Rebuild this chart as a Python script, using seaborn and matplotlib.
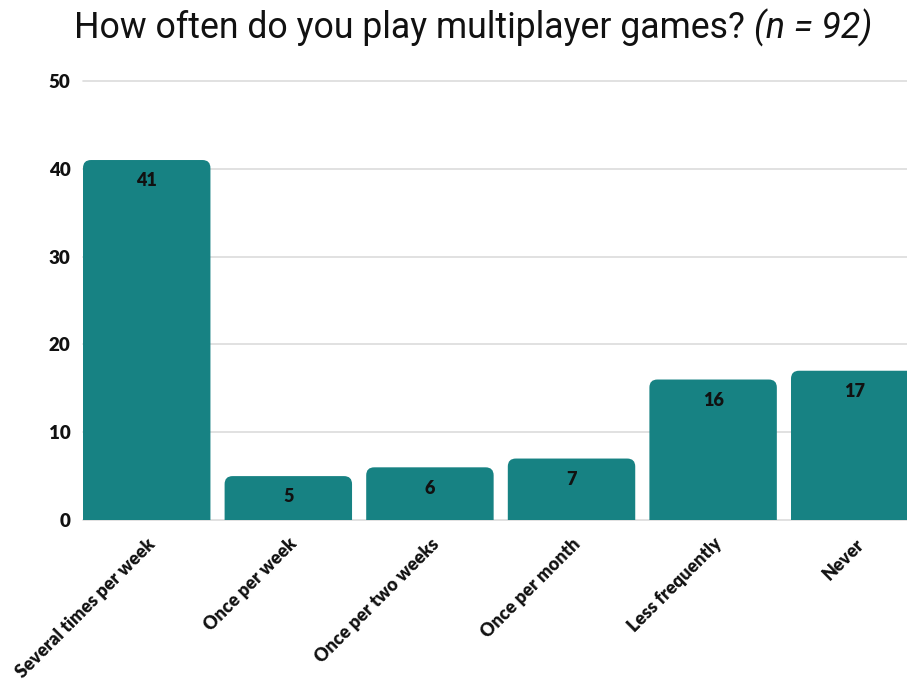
import matplotlib
matplotlib.use("Agg")
import matplotlib.pyplot as plt
from matplotlib.patches import FancyBboxPatch
import seaborn as sns
import pandas as pd

categories = ["Several times per week", "Once per week", "Once per two weeks",
              "Once per month", "Less frequently", "Never"]
counts = [41, 5, 6, 7, 16, 17]
y_ticks = [0, 10, 20, 30, 40, 50]

bar_color = "#178283"
text_color = "#111111"

sns.set_theme(style="white")
plt.rcParams["font.family"] = ["Lato", "DejaVu Sans"]

df = pd.DataFrame({"category": categories, "count": counts})

fig = plt.figure(figsize=(9.07, 6.82), dpi=100)
W, H = 907, 682
ax_left, ax_bottom = 83, 682 - 520
ax_w = 5.9 * 141.6
ax_h = 439 * 50.5 / 50
ax = fig.add_axes([ax_left / W, ax_bottom / H, ax_w / W, ax_h / H])

sns.barplot(data=df, x="category", y="count", color=bar_color, width=0.9,
            saturation=1, ax=ax, zorder=3)

ax.set_xlim(-0.45, 5.45)
ax.set_ylim(0, 50.5)

# swap each bar for a version with rounded top corners
px_per_x = ax_w / 5.9
px_per_y = ax_h / 50.5
radius_px = 8
for patch in list(ax.patches):
    x0, y0 = patch.get_x(), patch.get_y()
    w, h = patch.get_width(), patch.get_height()
    r = radius_px / px_per_x
    aspect = px_per_x / px_per_y
    ext = radius_px / px_per_y * 1.5
    fb = FancyBboxPatch((x0, y0 - ext), w, h + ext,
                        boxstyle=f"round,pad=0,rounding_size={r}",
                        mutation_aspect=aspect,
                        facecolor=bar_color, edgecolor="none", zorder=3)
    patch.remove()
    ax.add_patch(fb)

for i, v in enumerate(counts):
    ax.annotate(str(v), xy=(i, v), xytext=(0, -15), textcoords="offset points",
                ha="center", va="center", fontsize=13, fontweight="heavy",
                color=text_color, zorder=5)

ax.set_yticks(y_ticks)
ax.set_yticklabels([str(t) for t in y_ticks], fontsize=13.5, fontweight="heavy",
                   color=text_color)
for t in y_ticks:
    ax.axhline(t, color="#dcdcdc", lw=1.2, zorder=1, clip_on=False)

ax.set_xticks(range(len(categories)))
ax.set_xticklabels(categories, rotation=45, ha="right", rotation_mode="anchor",
                   fontsize=13, fontweight="heavy", color=text_color)
ax.tick_params(axis="x", length=0, pad=11)
ax.tick_params(axis="y", length=0, pad=9)

ax.set_xlabel("")
ax.set_ylabel("")
for s in ax.spines.values():
    s.set_visible(False)
ax.grid(False)

# title: upright question followed by the italic sample size
title_main = "How often do you play multiplayer games? "
title_n = "(n = 92)"
ty = 1 - 38 / H
t1 = fig.text(0, ty, title_main, ha="left", va="baseline", fontsize=25.7,
              color=text_color, family=["Roboto", "DejaVu Sans"])
t2 = fig.text(0, ty, title_n, ha="left", va="baseline", fontsize=25.7,
              color=text_color, style="italic", family=["Roboto", "DejaVu Sans"])
fig.canvas.draw()
r = fig.canvas.get_renderer()
w1 = t1.get_window_extent(r).width
w2 = t2.get_window_extent(r).width
start = 473 - (w1 + w2) / 2
t1.set_x(start / W)
t2.set_x((start + w1) / W)

fig.savefig("out.png", dpi=100)
